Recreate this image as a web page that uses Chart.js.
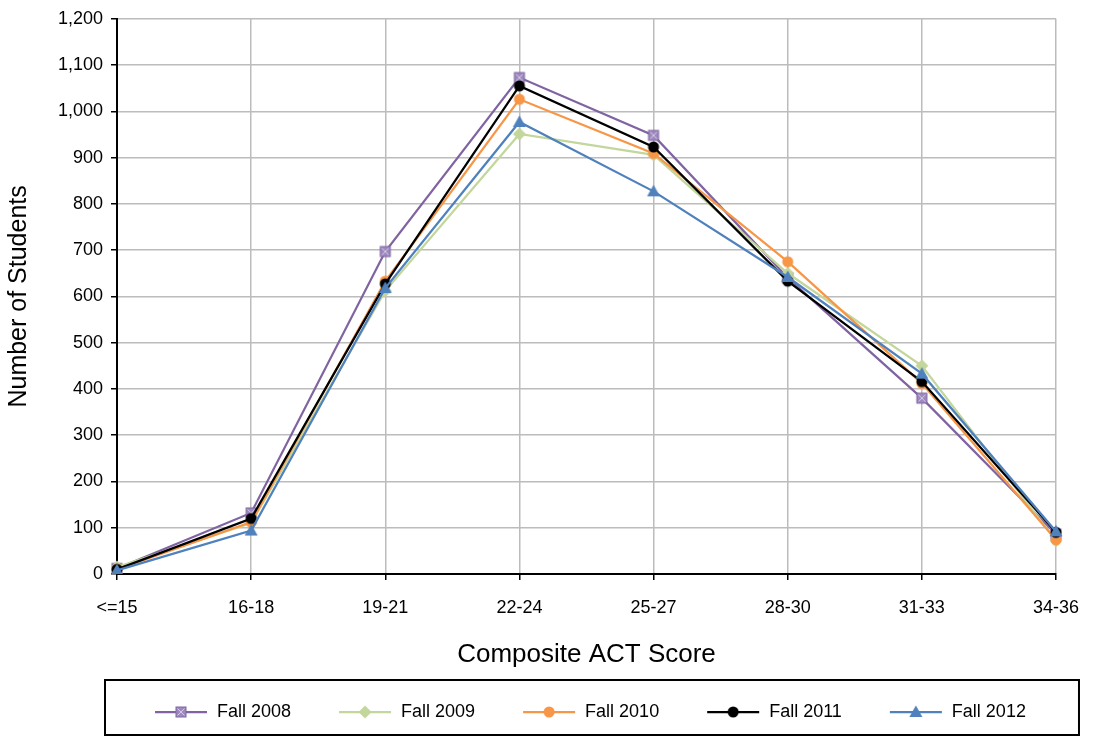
<!DOCTYPE html>
<html>
<head>
<meta charset="utf-8">
<script src="https://cdn.jsdelivr.net/npm/chart.js@4.4.0/dist/chart.umd.min.js"></script>
<style>
  html, body { margin: 0; padding: 0; background: #fff; }
  #wrap { width: 1096px; height: 738px; }
</style>
</head>
<body>
<div id="wrap"><canvas id="actChart" width="1096" height="738"></canvas></div>
<script>
const scoreBands = ['<=15', '16-18', '19-21', '22-24', '25-27', '28-30', '31-33', '34-36'];
const fall2008 = [12, 132, 697, 1073, 948, 640, 380, 86];
const fall2009 = [15, 110, 612, 951, 906, 650, 450, 72];
const fall2010 = [10, 112, 633, 1026, 909, 675, 412, 74];
const fall2011 = [10, 120, 627, 1055, 923, 633, 416, 90];
const fall2012 = [8, 94, 618, 977, 827, 642, 433, 92];
const yTicks = [0, 100, 200, 300, 400, 500, 600, 700, 800, 900, 1000, 1100, 1200];

const FONT = "'Liberation Sans', Arial, sans-serif";

function makeCanvas(w, h) {
  const c = document.createElement('canvas');
  c.width = w;
  c.height = h;
  return c;
}

// markers drawn by hand so legend glyph and points look the same
function drawMarker(ctx, kind, cx, cy, color, fill) {
  ctx.save();
  ctx.fillStyle = fill;
  ctx.strokeStyle = color;
  ctx.lineWidth = 1;
  if (kind === 'boxX') {
    ctx.fillRect(cx - 5, cy - 5, 10, 10);
    ctx.strokeRect(cx - 5, cy - 5, 10, 10);
    ctx.strokeStyle = '#d5cbe4';
    ctx.beginPath();
    ctx.moveTo(cx - 3.5, cy - 3.5); ctx.lineTo(cx + 3.5, cy + 3.5);
    ctx.moveTo(cx + 3.5, cy - 3.5); ctx.lineTo(cx - 3.5, cy + 3.5);
    ctx.stroke();
  } else if (kind === 'diamond') {
    ctx.beginPath();
    ctx.moveTo(cx, cy - 6.5); ctx.lineTo(cx + 6.5, cy); ctx.lineTo(cx, cy + 6.5); ctx.lineTo(cx - 6.5, cy);
    ctx.closePath();
    ctx.fill();
  } else if (kind === 'circle') {
    ctx.beginPath();
    ctx.arc(cx, cy, 5.5, 0, Math.PI * 2);
    ctx.fill();
  } else if (kind === 'triangle') {
    ctx.beginPath();
    ctx.moveTo(cx, cy - 6.5); ctx.lineTo(cx + 6.5, cy + 5); ctx.lineTo(cx - 6.5, cy + 5);
    ctx.closePath();
    ctx.fill();
  }
  ctx.restore();
}

function pointImage(kind, color, fill) {
  const c = makeCanvas(16, 16);
  drawMarker(c.getContext('2d'), kind, 8, 8, color, fill);
  return c;
}

const GLYPH_W = 91;
function legendImage(kind, color, fill) {
  const c = makeCanvas(GLYPH_W, 16);
  const ctx = c.getContext('2d');
  ctx.strokeStyle = color;
  ctx.lineWidth = 2.25;
  ctx.beginPath();
  ctx.moveTo(GLYPH_W - 53, 8);
  ctx.lineTo(GLYPH_W - 1, 8);
  ctx.stroke();
  drawMarker(ctx, kind, GLYPH_W - 27, 8, color, fill);
  return c;
}

const seriesStyle = [
  { label: 'Fall 2008', data: fall2008, color: '#8064a2', fill: '#9d89c0', kind: 'boxX' },
  { label: 'Fall 2009', data: fall2009, color: '#c3d69b', fill: '#c3d69b', kind: 'diamond' },
  { label: 'Fall 2010', data: fall2010, color: '#f79646', fill: '#f79646', kind: 'circle' },
  { label: 'Fall 2011', data: fall2011, color: '#000000', fill: '#000000', kind: 'circle' },
  { label: 'Fall 2012', data: fall2012, color: '#4f81bd', fill: '#4f81bd', kind: 'triangle' },
];

const datasets = seriesStyle.map((s, i) => ({
  label: s.label,
  data: s.data,
  borderColor: s.color,
  backgroundColor: s.fill,
  borderWidth: 2.25,
  tension: 0,
  pointStyle: pointImage(s.kind, s.color, s.fill),
  pointRadius: 5,
  pointHoverRadius: 5,
  order: seriesStyle.length - i, // later series on top, like excel
}));

const legendFrame = {
  id: 'legendFrame',
  afterLayout(chart) {
    const lg = chart.legend;
    lg.left = chart.chartArea.left - 10;
    lg.right = chart.chartArea.right + 23;
  },
  afterDraw(chart) {
    const lg = chart.legend;
    const ctx = chart.ctx;
    ctx.save();
    ctx.strokeStyle = '#000';
    ctx.lineWidth = 2;
    ctx.strokeRect(lg.left - 2, lg.top - 13, lg.right - lg.left + 2, lg.bottom - lg.top + 17);
    ctx.restore();
  },
};

new Chart(document.getElementById('actChart'), {
  type: 'line',
  data: { labels: scoreBands, datasets: datasets },
  plugins: [legendFrame],
  options: {
    responsive: false,
    animation: false,
    layout: { padding: { top: 15, right: 39, bottom: 7, left: 0 } },
    plugins: {
      tooltip: { enabled: false },
      legend: {
        position: 'bottom',
        align: 'start',
        labels: {
          usePointStyle: true,
          pointStyleWidth: GLYPH_W,
          padding: 10,
          color: '#000',
          font: { family: FONT, size: 18 },
          generateLabels: (chart) => chart.data.datasets.map((ds, i) => ({
            text: ds.label,
            pointStyle: legendImage(seriesStyle[i].kind, seriesStyle[i].color, seriesStyle[i].fill),
            fillStyle: ds.backgroundColor,
            strokeStyle: ds.borderColor,
            lineWidth: 0,
            hidden: false,
            datasetIndex: i,
            fontColor: '#000',
          })),
        },
      },
    },
    scales: {
      x: {
        grid: { color: '#bcbcbc', lineWidth: 1.5, tickColor: '#000', tickLength: 6 },
        border: { color: '#000', width: 2 },
        ticks: { color: '#000', font: { family: FONT, size: 18 }, padding: 17, maxRotation: 0, autoSkip: false },
        title: {
          display: true,
          text: 'Composite ACT Score',
          color: '#000',
          font: { family: FONT, size: 26 },
          padding: { top: 4, bottom: 23 },
        },
        afterFit: (scale) => { scale.height = 119; },
      },
      y: {
        min: 0,
        max: 1200,
        afterBuildTicks: (scale) => { scale.ticks = yTicks.map((v) => ({ value: v })); },
        grid: { color: '#bcbcbc', lineWidth: 1.5, tickColor: '#000', tickLength: 6 },
        border: { color: '#000', width: 2 },
        ticks: {
          color: '#000',
          font: { family: FONT, size: 18 },
          padding: 8,
          callback: (v) => Number(v).toLocaleString('en-US'),
        },
        title: {
          display: true,
          text: 'Number of Students',
          color: '#000',
          font: { family: FONT, size: 25 },
          padding: { top: 4, bottom: 0 },
        },
        afterFit: (scale) => { scale.width = 117; },
      },
    },
  },
});
</script>
</body>
</html>
